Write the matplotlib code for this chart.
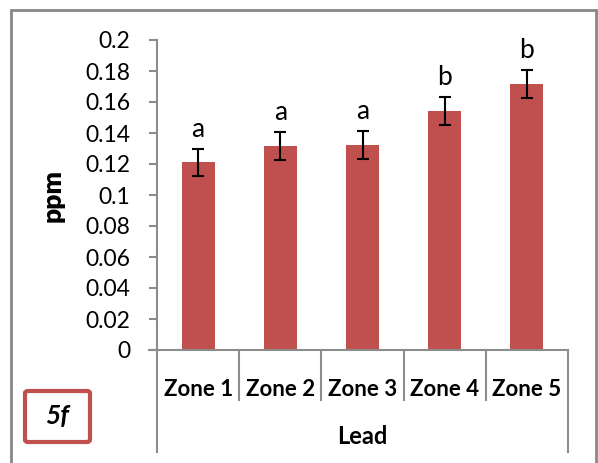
import matplotlib
matplotlib.use('Agg')
from matplotlib import pyplot as plt, transforms
from matplotlib.patches import FancyBboxPatch, Rectangle

# Data
zones = ['Zone 1', 'Zone 2', 'Zone 3', 'Zone 4', 'Zone 5']
lead_ppm = [0.121, 0.1315, 0.1325, 0.154, 0.1715]
lead_err = [0.009, 0.009, 0.009, 0.009, 0.009]
groups = ['a', 'a', 'a', 'b', 'b']
yticks = [0, 0.02, 0.04, 0.06, 0.08, 0.1, 0.12, 0.14, 0.16, 0.18, 0.2]
yticklabels = ['0', '0.02', '0.04', '0.06', '0.08', '0.1', '0.12', '0.14', '0.16', '0.18', '0.2']

plt.rcParams['font.family'] = ['Lato', 'DejaVu Sans']
W, H = 598, 463
bar_color = '#C0504D'
axis_color = '#8C8C8C'

fig = plt.figure(figsize=(W / 100, H / 100), dpi=100)

# outer chart border (open at the bottom, cropped)
fig.add_artist(Rectangle((11 / W, -0.01), (596 - 11) / W, (H - 10) / H + 0.01,
                         transform=fig.transFigure, fill=False,
                         edgecolor='#878787', linewidth=2))

ax = fig.add_axes([157 / W, (H - 350) / H, (568 - 157) / W, (350 - 40) / H])
x = list(range(len(zones)))
ax.bar(x, lead_ppm, width=0.4, color=bar_color, zorder=2)
ax.errorbar(x, lead_ppm, yerr=lead_err, fmt='none', ecolor='black',
            elinewidth=1.5, capsize=4.5, capthick=1.5, zorder=3)
for xi, v, e, g in zip(x, lead_ppm, lead_err, groups):
    ax.annotate(g, (xi, v + e), xytext=(0, 5), textcoords='offset points',
                ha='center', va='bottom', fontsize=19)

ax.set_xlim(-0.5, len(zones) - 0.5)
ax.set_ylim(0, 0.2)
ax.set_yticks(yticks)
ax.set_yticklabels(yticklabels, fontsize=16.5)
ax.set_xticks(x)
ax.set_xticklabels(zones, fontsize=16, fontweight='bold')
ax.tick_params(axis='x', length=0, pad=21)
ax.tick_params(axis='y', length=6, width=1.5, color=axis_color, pad=13)
for side in ['top', 'right']:
    ax.spines[side].set_visible(False)
for side in ['left', 'bottom']:
    ax.spines[side].set_color(axis_color)
    ax.spines[side].set_linewidth(1.5)
ax.spines['bottom'].set_bounds(-0.5 - 0.1, len(zones) - 0.5)

# category separators below the axis
trans = transforms.blended_transform_factory(ax.transData, ax.transAxes)
ax_h = 310
for i in range(len(zones) + 1):
    b = i - 0.5
    low = -102 / ax_h if i in (0, len(zones)) else -50 / ax_h
    ax.plot([b, b], [0, low], transform=trans, color=axis_color,
            linewidth=1.5, clip_on=False)

ax.set_ylabel('ppm', fontsize=19, fontweight='heavy')
ax.yaxis.set_label_coords(-92 / 411, 0.5)
ax.text(0.5, -86 / ax_h, 'Lead', transform=ax.transAxes, ha='center',
        va='center', fontsize=17, fontweight='bold')

# panel tag
fig.add_artist(FancyBboxPatch((25 / W, (H - 442) / H), 65 / W, 51 / H,
                              boxstyle='round,pad=0,rounding_size=0.005',
                              transform=fig.transFigure, facecolor='white',
                              edgecolor=bar_color, linewidth=3))
fig.text(57 / W, (H - 416) / H, '5f', ha='center', va='center', fontsize=19,
         fontweight='bold', fontstyle='italic')

fig.savefig('out.png', dpi=100)
